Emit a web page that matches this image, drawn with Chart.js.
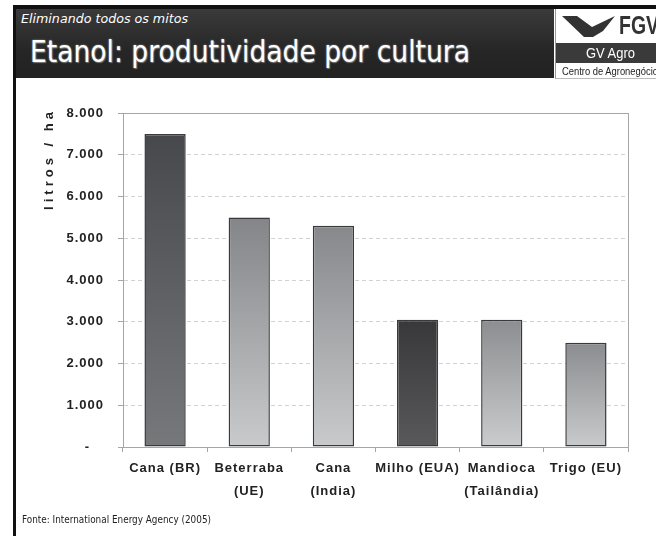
<!DOCTYPE html>
<html lang="pt-BR">
<head>
<meta charset="utf-8">
<title>Etanol: produtividade por cultura</title>
<script src="https://cdn.jsdelivr.net/npm/chart.js@4"></script>
<style>
  html, body { margin:0; padding:0; background:#fff; }
  body { width:656px; height:536px; position:relative; overflow:hidden; font-family:"DejaVu Sans", sans-serif; }
  #grafico { position:absolute; left:0; top:0; }
  #moldura-topo { position:absolute; left:13px; top:5px; width:643px; height:4px; background:#111; z-index:2; }
  #moldura-esq { position:absolute; left:13px; top:5px; width:3px; height:531px; background:#111; z-index:2; }
  #faixa { position:absolute; left:16px; top:9px; width:538px; height:69px; z-index:2;
           background:linear-gradient(#3b3b3b, #262626 60%, #222); }
  .ajuste { position:absolute; white-space:nowrap; display:inline-block; transform-origin:left top; }
  #subtitulo { left:5px; top:2px; font-size:13px; font-style:italic; color:#fff; }
  #titulo { left:14px; top:25px; font-size:30px; color:#fff; text-shadow:1px 1px 1px #777, 0 0 2px #999; }
  #logo { position:absolute; left:555px; top:9px; width:110px; height:69px; background:#fff; z-index:2;
          border-left:1px solid #9a9a9a; border-bottom:1px solid #bbb; }
  #logo svg { position:absolute; left:6px; top:4px; }
  #fgv { left:63px; top:1px; font-family:"Liberation Sans Narrow","Liberation Sans",sans-serif; font-weight:bold;
         font-size:26px; color:#333; }
  #gvagro { position:absolute; left:0; top:34px; width:101px; height:20px; background:#3a3a3a; }
  #gvagro span { left:30px; top:1px; font-family:"Liberation Sans Narrow","Liberation Sans",sans-serif; font-size:15px; color:#fff; }
  #centro { left:6px; top:56px; font-family:"Liberation Sans Narrow","Liberation Sans",sans-serif; font-size:11px; color:#222; }
  #fonte { left:22px; top:514px; font-size:10px; color:#222; z-index:2; }
</style>
</head>
<body>
<canvas id="grafico" width="656" height="536"></canvas>
<div id="moldura-topo"></div>
<div id="moldura-esq"></div>
<div id="faixa">
  <span class="ajuste" id="subtitulo" data-w="167">Eliminando todos os mitos</span>
  <span class="ajuste" id="titulo" data-w="440">Etanol: produtividade por cultura</span>
</div>
<div id="logo">
  <svg width="56" height="26" viewBox="0 0 56 26">
    <polygon points="0,3 15,3 30,14 53,3 41,18 31,24 22,24" fill="#333"/>
  </svg>
  <span class="ajuste" id="fgv" data-w="40">FGV</span>
  <div id="gvagro"><span class="ajuste" data-w="49">GV Agro</span></div>
  <span class="ajuste" id="centro" data-w="96">Centro de Agronegócio</span>
</div>
<span class="ajuste" id="fonte" data-w="189">Fonte: International Energy Agency (2005)</span>

<script>
// dados (litros de etanol por hectare)
const culturas = [
  'Cana (BR)',
  ['Beterraba', '(UE)'],
  ['Cana', '(India)'],
  'Milho (EUA)',
  ['Mandioca', '(Tailândia)'],
  'Trigo (EU)'
];
const litrosPorHa = [7500, 5500, 5300, 3050, 3050, 2500];
const ticksY = [0, 1000, 2000, 3000, 4000, 5000, 6000, 7000, 8000];

// tons de cinza de cada barra (topo -> base)
const corTopo = ['#46484b', '#838588', '#86888b', '#38383a', '#8c8d90', '#8b8c8f'];
const corBase = ['#77787b', '#c9cacc', '#c9cacc', '#59595b', '#cbcccd', '#c9cacc'];

const $ = (s) => document.querySelector(s);

function milhar(v){
  if(v === 0) return '-   ';
  return String(v).replace(/\B(?=(\d{3})+(?!\d))/g, '.');
}

// ajusta largura dos textos do cabeçalho
function ajustarTextos(){
  document.querySelectorAll('.ajuste').forEach(el => {
    const alvo = +el.dataset.w;
    const w = el.getBoundingClientRect().width;
    if(alvo && w) el.style.transform = `scaleX(${alvo / w})`;
  });
}

function gradienteBarra(ctx){
  const chart = ctx.chart;
  const i = ctx.dataIndex;
  if(i === undefined) return '#888';
  if(!chart.chartArea) return corBase[i];
  const y = chart.scales.y;
  const y0 = y.getPixelForValue(litrosPorHa[i]);
  const y1 = y.getPixelForValue(0);
  const g = chart.ctx.createLinearGradient(0, y0, 0, y1);
  g.addColorStop(0, corTopo[i]);
  g.addColorStop(1, corBase[i]);
  return g;
}

const espacamento = {
  id: 'espacamento',
  beforeDraw(chart){ chart.ctx.letterSpacing = '1px'; }
};

const molduraPlot = {
  id: 'molduraPlot',
  beforeDatasetsDraw(chart){
    const a = chart.chartArea, c = chart.ctx;
    c.save();
    c.strokeStyle = '#a6a6a6';
    c.lineWidth = 1;
    c.setLineDash([]);
    c.strokeRect(Math.round(a.left) + .5, Math.round(a.top) + .5, Math.round(a.right - a.left), Math.round(a.bottom - a.top));
    c.restore();
  }
};

const tituloY = {
  id: 'tituloY',
  afterDraw(chart){
    const c = chart.ctx;
    c.save();
    c.translate(49, 159);
    c.rotate(-Math.PI / 2);
    c.font = 'bold 13px "Liberation Sans", Arial, sans-serif';
    c.letterSpacing = '4px';
    c.fillStyle = '#222';
    c.textAlign = 'center';
    c.textBaseline = 'middle';
    c.fillText('litros / ha', 0, 0);
    c.restore();
  }
};

const fonteEixo = { family: '"Liberation Sans", Arial, sans-serif', size: 13, weight: 'bold' };

function desenharGrafico(){
  new Chart($('#grafico').getContext('2d'), {
    type: 'bar',
    data: {
      labels: culturas,
      datasets: [{
        data: litrosPorHa,
        backgroundColor: gradienteBarra,
        borderColor: '#3a3a3a',
        borderWidth: 1.5,
        borderSkipped: false,
        barPercentage: 0.49,
        categoryPercentage: 1
      }]
    },
    options: {
      responsive: false,
      animation: false,
      layout: { padding: { top: 113, right: 28, left: 20, bottom: 0 } },
      plugins: { legend: { display: false }, tooltip: { enabled: false } },
      scales: {
        x: {
          afterFit(s){ s.height = 89; },
          grid: { drawOnChartArea: false, color: '#a6a6a6', tickLength: 5, offset: true },
          border: { color: '#a6a6a6' },
          ticks: { color: '#222', font: { ...fonteEixo, lineHeight: 1.75 }, padding: 5, maxRotation: 0, autoSkip: false }
        },
        y: {
          min: 0,
          max: 8000,
          afterFit(s){ s.width = 103; },
          afterBuildTicks(s){ s.ticks = ticksY.map(v => ({ value: v })); },
          grid: { color: '#d2d2d2', tickColor: '#a6a6a6', tickLength: 5 },
          border: { color: '#a6a6a6', dash: [4, 3] },
          ticks: { color: '#222', font: fonteEixo, padding: 14, callback: (v) => milhar(v) }
        }
      }
    },
    plugins: [espacamento, molduraPlot, tituloY]
  });
}

window.addEventListener('DOMContentLoaded', () => {
  ajustarTextos();
  desenharGrafico();
});
</script>
</body>
</html>
